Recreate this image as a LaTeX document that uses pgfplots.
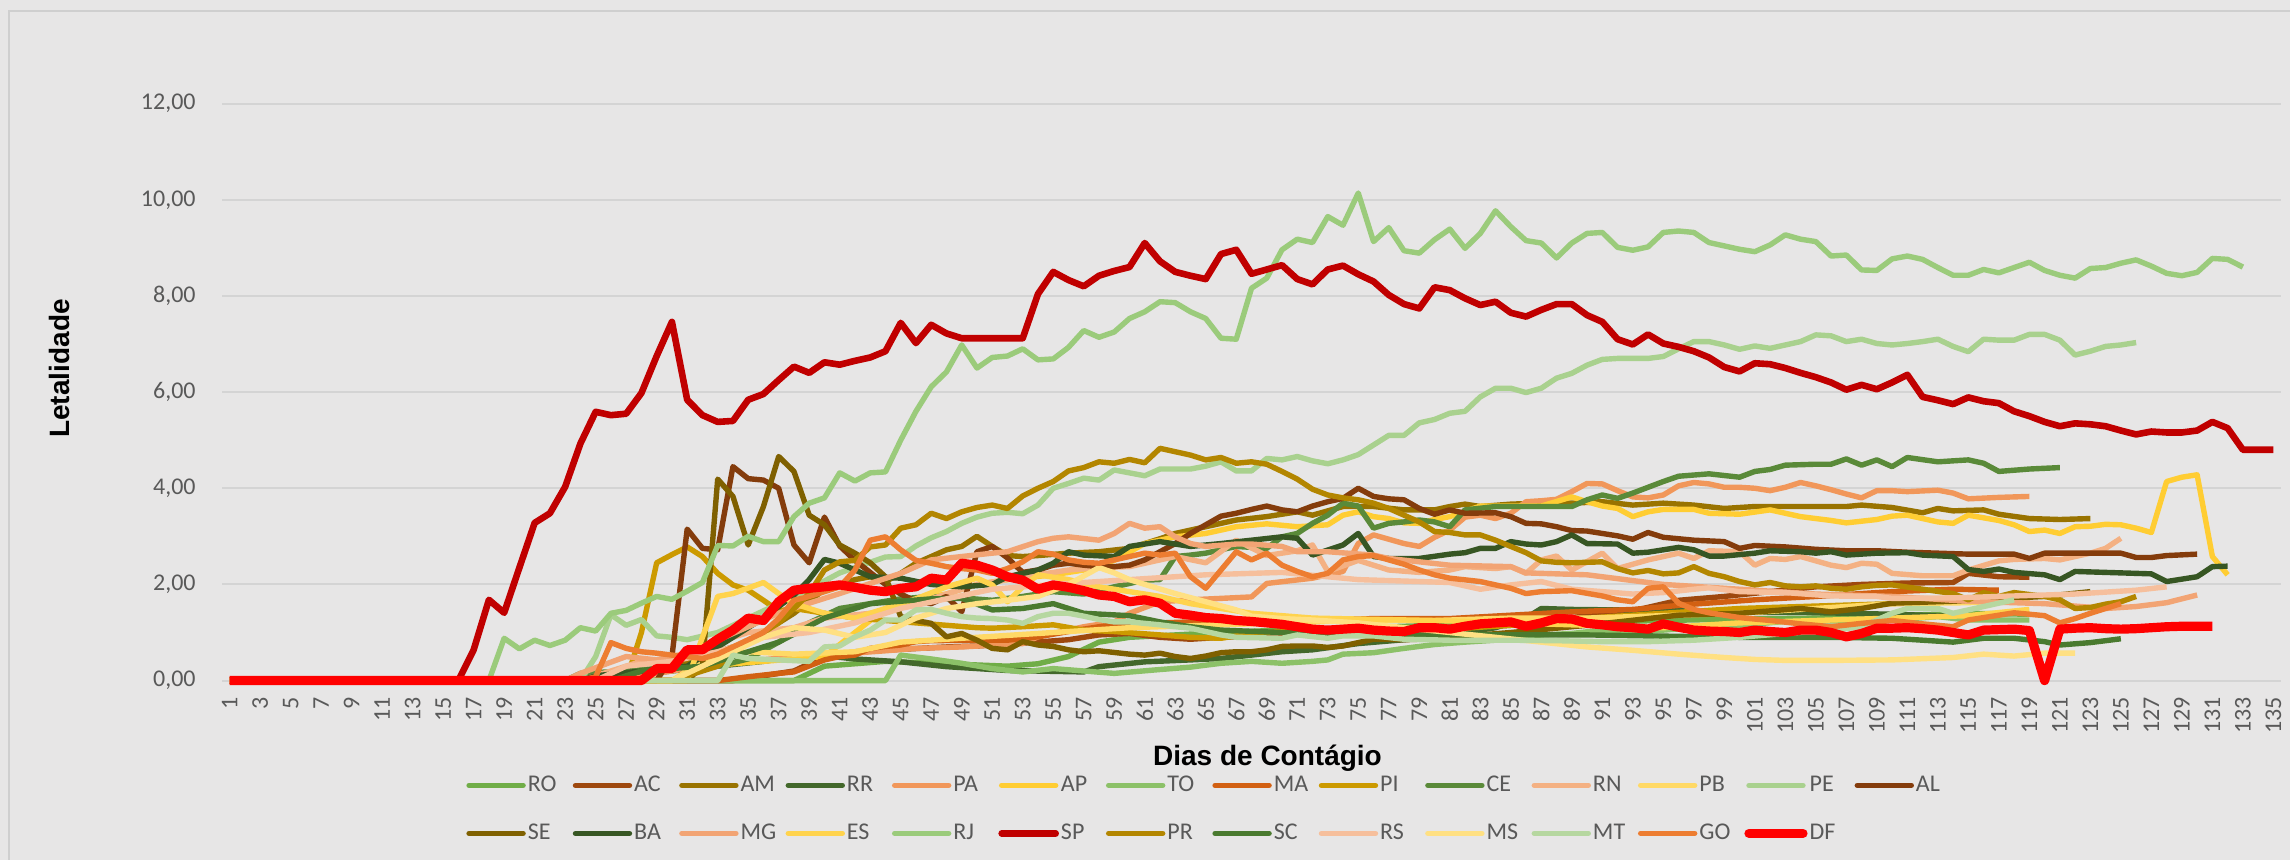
\documentclass[border=0pt]{standalone}
\usepackage{fontspec}
\setmainfont{Carlito}
\newfontfamily\arialf{Liberation Sans}
\usepackage{pgfplots}
\pgfplotsset{compat=1.18}
\definecolor{bgc}{HTML}{E7E6E6}
\definecolor{bordc}{HTML}{CFCFCF}
\definecolor{gridc}{HTML}{D4D4D4}
\definecolor{tickc}{HTML}{595959}
\definecolor{cRO}{HTML}{70AD47}
\definecolor{cAC}{HTML}{9E480E}
\definecolor{cAM}{HTML}{997300}
\definecolor{cRR}{HTML}{43682B}
\definecolor{cPA}{HTML}{F1975A}
\definecolor{cAP}{HTML}{FFCD33}
\definecolor{cTO}{HTML}{8CC168}
\definecolor{cMA}{HTML}{D26012}
\definecolor{cPI}{HTML}{CC9A00}
\definecolor{cCE}{HTML}{5A8A39}
\definecolor{cRN}{HTML}{F4B183}
\definecolor{cPB}{HTML}{FFD966}
\definecolor{cPE}{HTML}{A9D18E}
\definecolor{cAL}{HTML}{843C0C}
\definecolor{cSE}{HTML}{7F6000}
\definecolor{cBA}{HTML}{375623}
\definecolor{cMG}{HTML}{F2A474}
\definecolor{cES}{HTML}{FFD34D}
\definecolor{cRJ}{HTML}{9BCB7B}
\definecolor{cSP}{HTML}{C00000}
\definecolor{cPR}{HTML}{B38600}
\definecolor{cSC}{HTML}{4A7A2F}
\definecolor{cRS}{HTML}{F6BF9C}
\definecolor{cMS}{HTML}{FFE083}
\definecolor{cMT}{HTML}{B6D7A0}
\definecolor{cGO}{HTML}{ED7D31}
\definecolor{cDF}{HTML}{FF0000}
\newcommand\tf{\fontsize{12}{14}\selectfont}
\newcommand\lbl[1]{\hspace{1pt}\makebox[22.5pt][l]{#1}}
\begin{document}
\begin{tikzpicture}
\useasboundingbox (0,0) rectangle (1145pt,430pt);
\fill[bgc] (0,0) rectangle (1145pt,430pt);
\draw[bordc, line width=1pt] (4.5pt,0) -- (4.5pt,424.5pt) -- (1146pt,424.5pt);
\begin{axis}[
  at={(111pt,89.7pt)}, anchor=south west, scale only axis,
  width=1029.5pt, height=288.5pt,
  xmin=0.5, xmax=135.5, ymin=0, ymax=12,
  axis line style={draw=none},
  major tick length=0pt, tick style={draw=none},
  ymajorgrids, grid style={gridc, line width=1pt},
  ytick={0,2,...,12},
  xtick={1,3,...,135},
  /pgf/number format/assume math mode=true,
  yticklabel={\pgfmathprintnumber[fixed,fixed zerofill,precision=2,use comma]{\tick}},
  xticklabel={\pgfmathprintnumber[fixed,precision=0]{\tick}},
  tick label style={font=\tf, text=tickc, inner sep=0pt},
  xticklabel style={rotate=90, anchor=east},
  yticklabel style={anchor=east},
  xticklabel shift=8.2pt, yticklabel shift=13pt,
  clip=false,
  legend columns=14,
  legend style={at={(0.1185,-0.1601)}, anchor=north west, draw=none, fill=none,
    inner sep=0pt, column sep=0pt, row sep=12pt, font=\tf, text=tickc,
    nodes={inner sep=0pt, text height=9pt, text depth=3pt}},
  legend image code/.code={\draw[#1, line cap=round] (0pt,0pt) -- (27pt,0pt);},
  every axis plot/.append style={line join=round, line width=2.7pt, no markers},
]
% RO
\addplot[cRO] coordinates {(1,0)(38,0)(40,0.3)(44,0.4)(48,0.35)(52,0.3)(54,0.35)(56,0.5)(58,0.8)(60,0.9)(63,0.95)(66,1.0)(70,1.05)(75,1.1)(80,1.15)(85,1.2)(90,1.22)(95,1.25)(100,1.28)(105,1.3)(110,1.35)(115,1.4)(119,1.38)};
% AC
\addplot[cAC] coordinates {(1,0)(34,0)(36,0.1)(38,0.2)(40,0.5)(42,0.6)(45,0.65)(48,0.7)(50,0.72)(53,0.78)(56,0.85)(58,0.95)(60,0.98)(62,0.9)(64,0.86)(66,0.9)(70,0.95)(75,1.0)(80,1.05)(85,1.15)(90,1.35)(93,1.45)(96,1.67)(99,1.75)(102,1.85)(105,1.95)(108,2.0)(111,2.03)(114,2.04)(115,2.23)(117,2.16)(119,2.15)};
% AM
\addplot[cAM] coordinates {(1,0)(24,0)(26,0.1)(30,0.3)(35,0.8)(38,1.4)(40,1.9)(42,2.1)(43,2.16)(44,2.06)(45,2.23)(46,2.44)(47,2.58)(48,2.72)(49,2.79)(50,3.0)(51,2.79)(52,2.6)(53,2.58)(54,2.6)(56,2.65)(58,2.68)(60,2.75)(62,2.95)(63,3.06)(65,3.2)(67,3.34)(69,3.41)(71,3.51)(72,3.44)(74,3.62)(76,3.62)(78,3.55)(80,3.55)(81,3.62)(82,3.67)(83,3.62)(85,3.67)(87,3.69)(89,3.69)(91,3.72)(93,3.65)(95,3.69)(97,3.65)(99,3.58)(101,3.62)(103,3.62)(105,3.62)(107,3.62)(108,3.65)(110,3.6)(112,3.49)(113,3.58)(114,3.53)(116,3.55)(117,3.46)(119,3.37)(121,3.35)(123,3.37)};
% RR
\addplot[cRR] coordinates {(1,0)(26,0)(27,0.1)(30,0.2)(33,0.3)(36,0.4)(39,0.55)(42,0.45)(45,0.39)(48,0.29)(52,0.21)(57,0.18)(58,0.29)(61,0.39)(64,0.43)(66,0.46)(70,0.6)(72,0.64)(75,0.77)(78,0.85)(81,0.95)(84,1.1)(86,1.3)(87,1.5)(89,1.48)(92,1.47)(95,1.45)(98,1.45)(101,1.42)(104,1.42)(107,1.4)(110,1.38)(113,1.35)(116,1.3)};
% PA
\addplot[cPA] coordinates {(1,0)(27,0)(29,0.15)(32,0.3)(35,0.4)(38,0.5)(41,0.55)(44,0.62)(46,0.67)(49,0.7)(53,0.77)(54,0.91)(57,1.12)(59,1.22)(60,1.4)(62,1.64)(64,1.68)(66,1.71)(68,1.74)(69,2.02)(72,2.13)(74,2.27)(75,2.85)(76,3.03)(77,2.94)(78,2.85)(79,2.79)(80,2.98)(81,3.13)(82,3.4)(83,3.44)(84,3.37)(85,3.48)(86,3.72)(87,3.74)(88,3.77)(89,3.93)(90,4.1)(91,4.09)(92,3.95)(93,3.82)(94,3.8)(95,3.86)(96,4.05)(97,4.12)(98,4.09)(99,4.02)(100,4.02)(101,4.0)(102,3.95)(103,4.02)(104,4.12)(105,4.05)(106,3.97)(107,3.88)(108,3.8)(109,3.95)(110,3.95)(111,3.93)(113,3.96)(114,3.9)(115,3.78)(117,3.81)(119,3.83)};
% AP
\addplot[cAP] coordinates {(1,0)(30,0)(32,0.3)(36,0.4)(40,0.5)(42,1.0)(44,1.5)(46,1.7)(48,1.8)(50,2.0)(52,2.1)(55,2.2)(57,2.3)(59,2.5)(61,2.85)(63,2.99)(65,3.06)(67,3.2)(69,3.26)(71,3.2)(73,3.24)(74,3.44)(75,3.51)(76,3.41)(77,3.37)(78,3.28)(79,3.27)(80,3.35)(81,3.41)(83,3.63)(85,3.63)(87,3.63)(89,3.82)(90,3.72)(91,3.63)(92,3.58)(93,3.41)(94,3.51)(95,3.56)(97,3.56)(98,3.48)(100,3.46)(102,3.55)(104,3.41)(106,3.33)(107,3.28)(109,3.35)(110,3.42)(111,3.44)(113,3.3)(114,3.27)(115,3.44)(117,3.33)(118,3.24)(119,3.1)(120,3.13)(121,3.06)(122,3.2)(123,3.21)(124,3.25)(125,3.24)(126,3.17)(127,3.08)(128,4.14)(129,4.23)(130,4.28)(131,2.58)(132,2.2)};
% TO
\addplot[cTO] coordinates {(1,0)(44,0)(45,0.53)(47,0.45)(49,0.36)(51,0.25)(53,0.18)(55,0.25)(57,0.2)(59,0.15)(62,0.23)(64,0.28)(66,0.36)(68,0.4)(70,0.36)(72,0.4)(73,0.43)(74,0.55)(76,0.58)(78,0.67)(80,0.75)(82,0.8)(85,0.86)(87,0.95)(89,0.98)(91,1.05)(93,1.0)(97,1.1)(100,1.15)(103,1.23)(106,1.24)(110,1.26)(113,1.33)(115,1.26)(117,1.26)(119,1.26)};
% MA
\addplot[cMA] coordinates {(1,0)(33,0)(35,0.08)(37,0.15)(38,0.18)(40,0.43)(41,0.5)(42,0.53)(43,0.67)(44,0.71)(45,0.74)(46,0.81)(47,0.83)(50,0.84)(52,0.84)(54,0.91)(56,1.02)(58,1.12)(60,1.2)(62,1.2)(64,1.22)(66,1.26)(68,1.27)(70,1.26)(72,1.27)(74,1.27)(76,1.29)(80,1.29)(81,1.29)(85,1.36)(89,1.43)(93,1.48)(97,1.59)(101,1.68)(105,1.75)(110,1.85)(114,1.9)(117,1.88)};
% PI
\addplot[cPI] coordinates {(1,0)(27,0)(28,1.0)(29,2.45)(30,2.62)(31,2.78)(32,2.58)(33,2.23)(34,1.99)(35,1.88)(36,1.67)(37,1.45)(38,1.5)(40,1.4)(42,1.3)(44,1.25)(46,1.2)(48,1.15)(50,1.1)(51,1.09)(53,1.12)(55,1.16)(57,1.05)(59,1.02)(62,0.95)(64,0.9)(66,0.88)(68,0.98)(70,1.02)(72,0.98)(74,1.05)(76,1.06)(80,1.05)(85,1.15)(90,1.3)(95,1.4)(100,1.5)(105,1.55)(110,1.6)(115,1.65)(119,1.7)};
% CE
\addplot[cCE] coordinates {(1,0)(23,0)(24,0.15)(27,0.2)(30,0.28)(33,0.3)(35,0.45)(37,0.8)(39,1.2)(41,1.5)(43,1.6)(45,1.7)(47,1.75)(49,1.72)(51,1.67)(53,1.75)(55,1.85)(57,1.8)(59,1.95)(61,2.09)(62,2.1)(63,2.58)(64,2.61)(65,2.65)(66,2.72)(67,2.79)(69,2.75)(70,2.99)(71,3.06)(72,3.27)(73,3.44)(74,3.69)(75,3.63)(76,3.17)(77,3.27)(78,3.3)(79,3.34)(80,3.3)(81,3.2)(82,3.55)(84,3.62)(86,3.62)(88,3.62)(89,3.62)(90,3.76)(91,3.86)(92,3.79)(93,3.9)(94,4.02)(95,4.14)(96,4.25)(98,4.3)(100,4.23)(101,4.35)(102,4.39)(103,4.48)(105,4.5)(106,4.5)(107,4.61)(108,4.48)(109,4.59)(110,4.45)(111,4.64)(113,4.55)(115,4.59)(116,4.52)(117,4.35)(119,4.4)(121,4.43)};
% RN
\addplot[cRN] coordinates {(1,0)(24,0)(26,0.2)(28,0.4)(31,0.5)(33,0.8)(35,1.0)(38,1.1)(40,1.3)(43,1.4)(46,1.6)(48,1.8)(50,2.0)(52,2.1)(54,2.2)(56,2.3)(58,2.35)(60,2.37)(63,2.58)(65,2.45)(67,2.92)(69,2.6)(71,2.7)(72,2.82)(73,2.27)(75,2.5)(77,2.3)(79,2.25)(81,2.3)(82,2.37)(84,2.33)(85,2.37)(86,2.23)(87,2.51)(88,2.59)(89,2.3)(91,2.65)(92,2.33)(94,2.51)(96,2.65)(97,2.54)(98,2.7)(100,2.68)(101,2.4)(102,2.54)(103,2.52)(104,2.58)(106,2.4)(107,2.35)(108,2.44)(109,2.42)(110,2.23)(112,2.18)(114,2.18)(115,2.3)(117,2.49)(118,2.52)(120,2.54)(121,2.51)(122,2.58)(123,2.65)(124,2.75)(125,2.96)};
% PB
\addplot[cPB] coordinates {(1,0)(30,0)(32,0.4)(35,0.6)(38,0.55)(42,0.6)(45,0.8)(50,0.9)(55,1.0)(60,1.1)(65,1.15)(70,1.2)(75,1.25)(80,1.25)(85,1.3)(90,1.3)(95,1.35)(100,1.4)(105,1.5)(110,1.6)(115,1.62)(119,1.7)};
% PE
\addplot[cPE] coordinates {(1,0)(24,0)(25,0.5)(26,1.37)(27,1.15)(28,1.27)(29,0.93)(30,0.9)(31,0.85)(33,1.0)(35,1.3)(37,1.6)(39,1.9)(41,2.24)(42,2.35)(44,2.57)(45,2.58)(46,2.8)(47,2.97)(48,3.1)(49,3.27)(50,3.4)(51,3.48)(52,3.5)(53,3.47)(54,3.65)(55,4.0)(56,4.1)(57,4.21)(58,4.17)(59,4.38)(60,4.32)(61,4.26)(62,4.4)(63,4.4)(64,4.4)(65,4.46)(66,4.55)(67,4.36)(68,4.36)(69,4.62)(70,4.59)(71,4.66)(72,4.57)(73,4.51)(74,4.59)(75,4.7)(76,4.9)(77,5.1)(78,5.1)(79,5.36)(80,5.43)(81,5.56)(82,5.6)(83,5.9)(84,6.08)(85,6.08)(86,5.99)(87,6.08)(88,6.29)(89,6.39)(90,6.56)(91,6.68)(92,6.7)(93,6.7)(94,6.7)(95,6.74)(96,6.9)(97,7.05)(98,7.05)(99,6.98)(100,6.89)(101,6.96)(102,6.91)(103,6.98)(104,7.05)(105,7.19)(106,7.17)(107,7.05)(108,7.1)(109,7.01)(110,6.98)(111,7.01)(112,7.05)(113,7.1)(114,6.95)(115,6.84)(116,7.1)(117,7.08)(118,7.08)(119,7.2)(120,7.2)(121,7.08)(122,6.77)(123,6.85)(124,6.95)(125,6.98)(126,7.03)};
% AL
\addplot[cAL] coordinates {(1,0)(29,0)(30,0.5)(31,3.15)(32,2.75)(33,2.72)(34,4.45)(35,4.2)(36,4.17)(37,4.0)(38,2.82)(39,2.45)(40,3.4)(41,2.8)(42,2.5)(43,2.25)(44,2.0)(45,1.8)(46,1.65)(47,1.6)(48,1.75)(49,1.43)(50,2.68)(51,2.79)(52,2.55)(53,2.25)(54,2.3)(55,2.4)(56,2.44)(57,2.4)(58,2.37)(59,2.37)(60,2.4)(61,2.51)(62,2.68)(63,2.85)(64,3.06)(65,3.24)(66,3.42)(67,3.48)(68,3.56)(69,3.63)(70,3.55)(71,3.51)(72,3.63)(73,3.72)(74,3.79)(75,4.0)(76,3.83)(77,3.78)(78,3.76)(79,3.58)(80,3.46)(81,3.55)(82,3.48)(84,3.49)(85,3.41)(86,3.27)(87,3.26)(88,3.2)(89,3.12)(90,3.11)(91,3.06)(92,3.01)(93,2.94)(94,3.08)(95,2.98)(96,2.95)(97,2.92)(99,2.89)(100,2.75)(101,2.81)(103,2.78)(105,2.73)(107,2.7)(109,2.7)(111,2.67)(113,2.65)(115,2.63)(118,2.63)(119,2.54)(120,2.65)(122,2.65)(125,2.65)(126,2.56)(127,2.56)(128,2.6)(130,2.63)};
% SE
\addplot[cSE] coordinates {(1,0)(31,0)(32,0.3)(33,4.19)(34,3.83)(35,2.82)(36,3.62)(37,4.66)(38,4.35)(39,3.44)(40,3.24)(41,2.82)(42,2.65)(43,2.45)(44,2.16)(45,1.33)(46,1.25)(47,1.19)(48,0.91)(49,0.98)(50,0.84)(51,0.67)(52,0.64)(53,0.81)(54,0.74)(55,0.71)(56,0.64)(57,0.6)(58,0.62)(60,0.55)(61,0.53)(62,0.57)(63,0.5)(64,0.46)(65,0.51)(66,0.58)(67,0.6)(68,0.6)(69,0.64)(70,0.71)(71,0.72)(72,0.72)(73,0.69)(74,0.72)(75,0.79)(76,0.86)(77,0.86)(78,0.85)(79,0.86)(80,0.88)(81,0.9)(85,1.0)(90,1.15)(96,1.36)(100,1.4)(104,1.5)(106,1.43)(108,1.5)(110,1.61)(114,1.65)(117,1.7)(120,1.75)(123,1.85)};
% BA
\addplot[cBA] coordinates {(1,0)(24,0)(25,0.1)(28,0.2)(31,0.3)(34,0.9)(36,1.3)(38,1.78)(39,2.1)(40,2.52)(41,2.44)(42,2.3)(43,2.16)(45,2.13)(47,2.0)(49,1.95)(51,2.0)(52,2.16)(54,2.3)(55,2.44)(56,2.68)(57,2.61)(59,2.58)(60,2.79)(62,2.89)(64,2.79)(66,2.85)(68,2.92)(70,2.99)(71,2.96)(72,2.61)(74,2.82)(75,3.06)(76,2.58)(77,2.54)(79,2.54)(81,2.63)(82,2.66)(83,2.75)(84,2.75)(85,2.89)(86,2.84)(87,2.82)(88,2.89)(89,3.03)(90,2.85)(92,2.84)(93,2.65)(94,2.67)(96,2.77)(97,2.72)(98,2.59)(99,2.59)(101,2.65)(102,2.7)(104,2.68)(105,2.65)(106,2.68)(107,2.61)(109,2.65)(111,2.66)(112,2.61)(114,2.58)(115,2.31)(116,2.27)(117,2.32)(118,2.25)(120,2.2)(121,2.1)(122,2.27)(124,2.25)(126,2.23)(127,2.22)(128,2.06)(130,2.16)(131,2.37)(132,2.38)};
% MG
\addplot[cMG] coordinates {(1,0)(23,0)(24,0.15)(27,0.5)(29,0.43)(31,0.57)(33,0.84)(34,0.98)(37,1.4)(39,1.61)(41,1.81)(43,2.02)(45,2.23)(47,2.51)(49,2.58)(51,2.65)(52,2.68)(54,2.89)(55,2.96)(56,2.99)(58,2.92)(59,3.06)(60,3.27)(61,3.17)(62,3.2)(63,2.99)(64,2.85)(65,2.79)(67,2.84)(68,2.84)(70,2.79)(71,2.68)(73,2.68)(76,2.61)(77,2.54)(79,2.47)(81,2.4)(85,2.37)(86,2.24)(90,2.2)(95,2.0)(100,1.9)(105,1.8)(110,1.75)(115,1.65)(120,1.6)(124,1.5)(126,1.54)(128,1.62)(130,1.78)};
% ES
\addplot[cES] coordinates {(1,0)(31,0)(32,0.9)(33,1.75)(34,1.81)(36,2.04)(37,1.81)(38,1.6)(40,1.4)(42,1.3)(44,1.5)(46,1.7)(48,1.95)(50,2.13)(51,1.99)(52,1.64)(53,1.95)(54,2.2)(56,2.1)(58,1.95)(60,1.85)(62,1.75)(64,1.6)(66,1.5)(68,1.4)(70,1.35)(72,1.3)(75,1.28)(80,1.25)(85,1.2)(90,1.15)(95,1.1)(100,1.2)(105,1.25)(110,1.3)(115,1.35)(119,1.48)};
% RJ
\addplot[cRJ] coordinates {(1,0)(18,0)(19,0.88)(20,0.66)(21,0.84)(22,0.73)(23,0.84)(24,1.1)(25,1.03)(26,1.4)(27,1.46)(28,1.61)(29,1.75)(30,1.69)(31,1.86)(32,2.04)(33,2.81)(34,2.8)(35,3.0)(36,2.89)(37,2.89)(38,3.41)(39,3.69)(40,3.8)(41,4.32)(42,4.15)(43,4.32)(44,4.34)(45,5.0)(46,5.6)(47,6.11)(48,6.42)(49,6.98)(50,6.5)(51,6.72)(52,6.75)(53,6.9)(54,6.67)(55,6.69)(56,6.93)(57,7.28)(58,7.14)(59,7.25)(60,7.53)(61,7.67)(62,7.88)(63,7.86)(64,7.67)(65,7.53)(66,7.12)(67,7.1)(68,8.16)(69,8.37)(70,8.96)(71,9.18)(72,9.11)(73,9.65)(74,9.47)(75,10.14)(76,9.13)(77,9.42)(78,8.94)(79,8.89)(80,9.17)(81,9.39)(82,8.99)(83,9.3)(84,9.77)(85,9.44)(86,9.15)(87,9.1)(88,8.79)(89,9.1)(90,9.3)(91,9.32)(92,9.01)(93,8.95)(94,9.02)(95,9.32)(96,9.35)(97,9.32)(98,9.11)(99,9.04)(100,8.97)(101,8.92)(102,9.06)(103,9.27)(104,9.18)(105,9.13)(106,8.83)(107,8.85)(108,8.54)(109,8.53)(110,8.77)(111,8.83)(112,8.76)(113,8.59)(114,8.43)(115,8.43)(116,8.55)(117,8.48)(118,8.59)(119,8.7)(120,8.53)(121,8.43)(122,8.37)(123,8.57)(124,8.59)(125,8.68)(126,8.75)(127,8.62)(128,8.47)(129,8.42)(130,8.49)(131,8.78)(132,8.76)(133,8.6)};
% SP
\addplot[cSP, line width=3.3pt] coordinates {(1,0)(16,0)(17,0.64)(18,1.68)(19,1.41)(20,2.35)(21,3.28)(22,3.48)(23,4.03)(24,4.93)(25,5.59)(26,5.52)(27,5.55)(28,5.98)(29,6.75)(30,7.46)(31,5.84)(32,5.52)(33,5.38)(34,5.4)(35,5.84)(36,5.96)(37,6.25)(38,6.53)(39,6.4)(40,6.62)(41,6.57)(42,6.65)(43,6.72)(44,6.85)(45,7.44)(46,7.02)(47,7.4)(48,7.22)(49,7.12)(50,7.12)(51,7.12)(52,7.12)(53,7.12)(54,8.04)(55,8.5)(56,8.33)(57,8.2)(58,8.42)(59,8.52)(60,8.6)(61,9.1)(62,8.72)(63,8.5)(64,8.42)(65,8.35)(66,8.87)(67,8.96)(68,8.46)(69,8.55)(70,8.64)(71,8.35)(72,8.24)(73,8.55)(74,8.63)(75,8.45)(76,8.3)(77,8.02)(78,7.83)(79,7.74)(80,8.18)(81,8.12)(82,7.95)(83,7.81)(84,7.88)(85,7.65)(86,7.57)(87,7.71)(88,7.83)(89,7.83)(90,7.6)(91,7.46)(92,7.1)(93,6.99)(94,7.2)(95,7.01)(96,6.94)(97,6.85)(98,6.72)(99,6.52)(100,6.43)(101,6.6)(102,6.58)(103,6.5)(104,6.4)(105,6.31)(106,6.2)(107,6.05)(108,6.15)(109,6.06)(110,6.2)(111,6.36)(112,5.9)(113,5.83)(114,5.75)(115,5.89)(116,5.81)(117,5.77)(118,5.6)(119,5.5)(120,5.38)(121,5.29)(122,5.35)(123,5.33)(124,5.29)(125,5.2)(126,5.12)(127,5.18)(128,5.16)(129,5.16)(130,5.2)(131,5.38)(132,5.25)(133,4.8)(134,4.8)(135,4.8)};
% PR
\addplot[cPR] coordinates {(1,0)(30,0)(33,0.3)(35,0.8)(37,1.2)(38,1.5)(39,1.81)(40,2.3)(41,2.47)(42,2.5)(43,2.78)(44,2.82)(45,3.17)(46,3.24)(47,3.48)(48,3.37)(49,3.51)(50,3.6)(51,3.65)(52,3.58)(53,3.84)(54,4.0)(55,4.14)(56,4.36)(57,4.43)(58,4.55)(59,4.52)(60,4.6)(61,4.53)(62,4.83)(63,4.76)(64,4.69)(65,4.59)(66,4.64)(67,4.52)(68,4.55)(69,4.5)(70,4.35)(71,4.19)(72,3.98)(73,3.86)(74,3.8)(75,3.76)(76,3.69)(77,3.58)(78,3.44)(79,3.3)(80,3.1)(81,3.08)(82,3.03)(83,3.03)(84,2.92)(85,2.79)(86,2.66)(87,2.49)(88,2.46)(89,2.45)(90,2.46)(91,2.47)(92,2.33)(93,2.24)(94,2.29)(95,2.22)(96,2.24)(97,2.37)(98,2.23)(99,2.16)(100,2.06)(101,1.99)(102,2.04)(103,1.97)(104,1.95)(105,1.97)(106,1.92)(107,1.9)(108,1.95)(109,1.98)(110,1.99)(112,1.9)(114,1.81)(115,1.68)(116,1.83)(117,1.75)(118,1.83)(120,1.75)(121,1.68)(122,1.5)(123,1.52)(124,1.59)(125,1.64)(126,1.75)};
% SC
\addplot[cSC] coordinates {(1,0)(26,0)(28,0.2)(32,0.3)(37,0.8)(40,1.3)(43,1.6)(47,1.7)(49,1.71)(51,1.47)(53,1.5)(55,1.6)(57,1.4)(60,1.35)(62,1.22)(64,1.12)(66,1.05)(70,1.0)(75,0.98)(80,0.95)(90,0.95)(100,0.9)(106,0.9)(110,0.88)(114,0.8)(116,0.88)(118,0.88)(120,0.81)(121,0.74)(123,0.79)(125,0.87)};
% RS
\addplot[cRS] coordinates {(1,0)(25,0)(27,0.3)(30,0.4)(33,0.6)(36,0.9)(39,1.0)(42,1.2)(45,1.5)(48,1.7)(51,1.9)(55,2.0)(60,2.1)(65,2.2)(70,2.25)(75,2.1)(80,2.05)(81,2.04)(83,1.9)(85,1.99)(87,2.06)(89,1.9)(91,1.85)(93,1.8)(95,1.83)(97,1.9)(98,1.93)(100,1.85)(103,1.83)(106,1.76)(109,1.75)(110,1.71)(114,1.72)(118,1.76)(122,1.8)(126,1.88)(128,1.95)};
% MS
\addplot[cMS] coordinates {(1,0)(30,0)(32,0.3)(34,0.6)(36,0.9)(38,1.1)(40,1.05)(42,0.9)(44,1.0)(46,1.3)(48,1.5)(50,1.6)(52,1.67)(54,1.75)(56,2.0)(58,2.35)(59,2.24)(60,2.1)(61,2.0)(63,1.81)(65,1.64)(67,1.47)(68,1.34)(70,1.29)(72,1.26)(75,1.2)(78,1.1)(81,1.0)(84,0.9)(87,0.8)(90,0.7)(93,0.63)(96,0.55)(99,0.48)(101,0.44)(103,0.42)(106,0.42)(110,0.43)(114,0.48)(116,0.55)(118,0.51)(120,0.57)(122,0.57)};
% MT
\addplot[cMT] coordinates {(1,0)(33,0)(34,0.53)(35,0.46)(37,0.43)(39,0.4)(40,0.7)(41,0.72)(42,0.91)(43,1.05)(44,1.26)(45,1.26)(46,1.47)(47,1.48)(48,1.4)(49,1.33)(50,1.3)(51,1.29)(52,1.26)(53,1.19)(54,1.33)(55,1.4)(56,1.4)(57,1.34)(58,1.27)(59,1.22)(60,1.22)(61,1.19)(62,1.16)(63,1.12)(64,1.09)(65,1.02)(66,0.95)(67,0.9)(70,0.88)(71,0.95)(73,0.88)(74,0.93)(76,0.93)(78,0.86)(81,0.84)(85,0.84)(88,0.83)(91,0.81)(94,0.81)(97,0.84)(100,0.9)(103,0.98)(106,1.05)(108,1.12)(110,1.4)(111,1.5)(113,1.5)(114,1.4)(116,1.54)(118,1.68)};
% GO
\addplot[cGO] coordinates {(1,0)(24,0)(25,0.08)(26,0.79)(27,0.67)(28,0.6)(29,0.57)(30,0.53)(31,0.5)(32,0.46)(33,0.55)(34,0.7)(35,0.85)(36,1.0)(37,1.29)(38,1.67)(39,1.75)(40,1.85)(41,1.95)(42,2.3)(43,2.92)(44,2.99)(45,2.72)(46,2.5)(47,2.44)(48,2.37)(49,2.33)(50,2.3)(51,2.23)(52,2.33)(53,2.47)(54,2.68)(55,2.63)(56,2.51)(57,2.46)(58,2.44)(59,2.51)(60,2.58)(61,2.65)(62,2.61)(63,2.65)(64,2.16)(65,1.92)(66,2.3)(67,2.68)(68,2.51)(69,2.65)(70,2.4)(71,2.27)(72,2.16)(73,2.23)(74,2.51)(75,2.58)(76,2.6)(77,2.51)(78,2.42)(79,2.3)(80,2.2)(81,2.13)(83,2.06)(84,1.99)(85,1.92)(86,1.81)(87,1.85)(89,1.87)(91,1.76)(92,1.68)(93,1.64)(94,1.92)(95,1.95)(96,1.61)(97,1.48)(98,1.41)(100,1.31)(102,1.25)(104,1.18)(106,1.12)(108,1.19)(110,1.25)(112,1.18)(114,1.12)(115,1.26)(118,1.41)(120,1.35)(121,1.2)(122,1.29)(123,1.4)(124,1.5)(125,1.6)};
% DF
\addplot[cDF, line width=4.6pt] coordinates {(1,0)(28,0)(29,0.25)(30,0.25)(31,0.64)(32,0.64)(33,0.86)(34,1.05)(35,1.3)(36,1.25)(37,1.64)(38,1.88)(39,1.92)(40,1.95)(41,1.99)(42,1.94)(43,1.88)(44,1.85)(45,1.92)(46,1.95)(47,2.13)(48,2.09)(49,2.44)(50,2.4)(51,2.3)(52,2.16)(53,2.09)(54,1.9)(55,1.99)(56,1.94)(57,1.87)(58,1.78)(59,1.75)(60,1.64)(61,1.68)(62,1.61)(63,1.4)(64,1.36)(65,1.31)(66,1.29)(67,1.25)(68,1.23)(69,1.2)(70,1.17)(71,1.12)(72,1.07)(73,1.05)(74,1.07)(75,1.09)(76,1.05)(77,1.03)(78,1.02)(79,1.1)(80,1.1)(81,1.07)(82,1.13)(83,1.18)(84,1.2)(85,1.22)(86,1.13)(87,1.2)(88,1.29)(89,1.28)(90,1.19)(91,1.16)(92,1.12)(93,1.1)(94,1.07)(95,1.18)(96,1.11)(97,1.05)(98,1.03)(99,1.02)(100,1.0)(101,1.05)(102,1.02)(103,1.0)(104,1.05)(105,1.05)(106,1.0)(107,0.91)(108,0.98)(109,1.09)(110,1.09)(111,1.1)(112,1.08)(113,1.05)(114,1.0)(115,0.95)(116,1.05)(117,1.06)(118,1.07)(119,1.04)(120,0)(121,1.07)(122,1.09)(123,1.1)(124,1.08)(125,1.07)(126,1.08)(127,1.1)(128,1.12)(129,1.13)(130,1.13)(131,1.13)};
\legend{\lbl{RO},\lbl{AC},\lbl{AM},\lbl{RR},\lbl{PA},\lbl{AP},\lbl{TO},\lbl{MA},\lbl{PI},\lbl{CE},\lbl{RN},\lbl{PB},\lbl{PE},\lbl{AL},\lbl{SE},\lbl{BA},\lbl{MG},\lbl{ES},\lbl{RJ},\lbl{SP},\lbl{PR},\lbl{SC},\lbl{RS},\lbl{MS},\lbl{MT},\lbl{GO},\lbl{DF}}
\end{axis}
\node[rotate=90, font=\arialf\bfseries\fontsize{14}{16}\selectfont] at (29.5pt,245.75pt) {Letalidade};
\node[anchor=base, font=\arialf\bfseries\fontsize{14}{16}\selectfont] at (633.75pt,47pt) {Dias de Contágio};
\end{tikzpicture}
\end{document}
